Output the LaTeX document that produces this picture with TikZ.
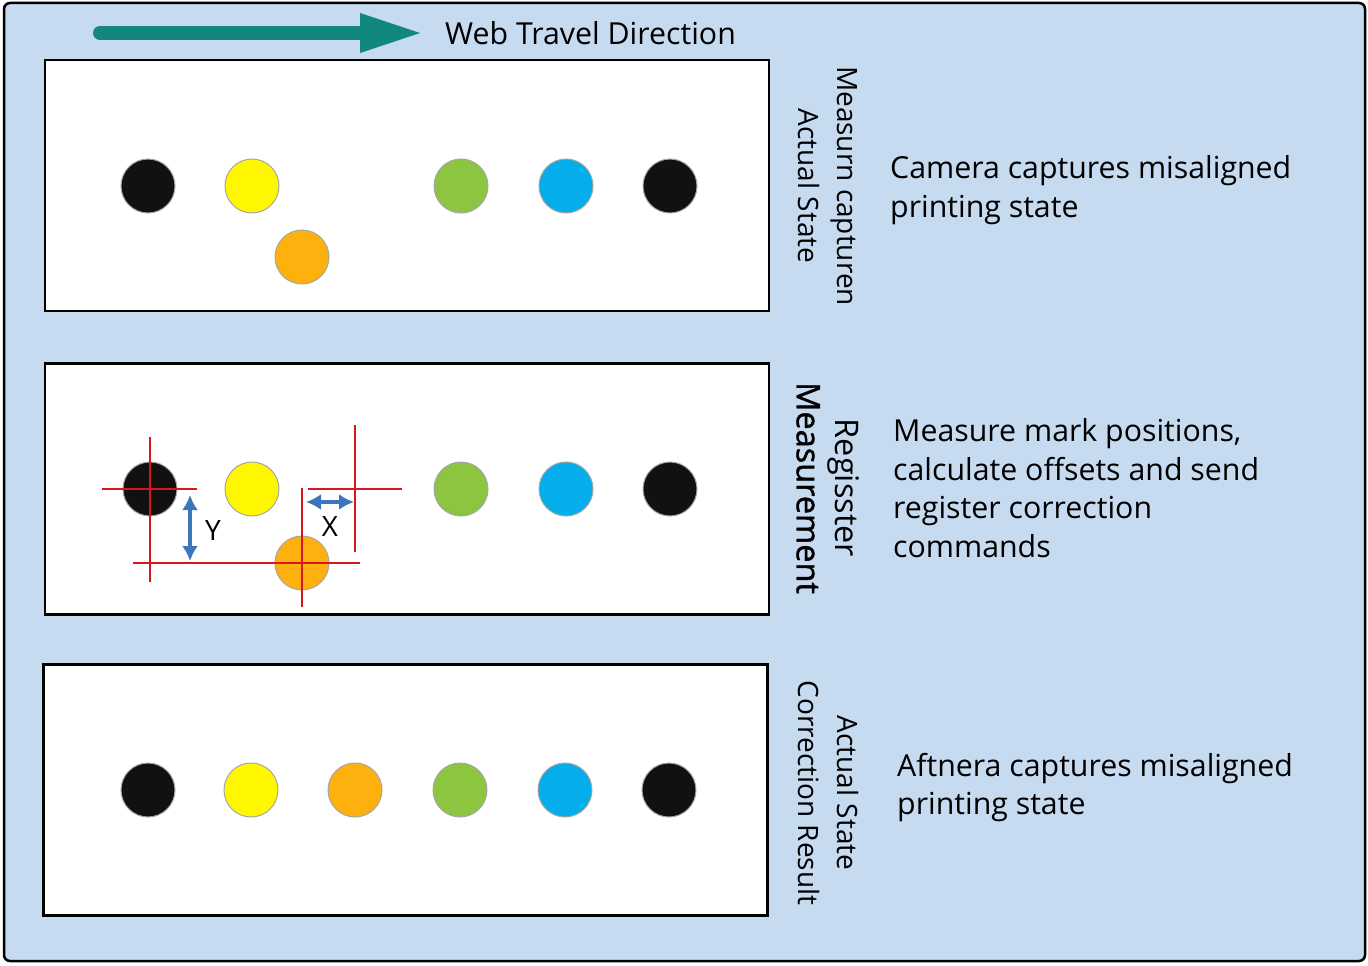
\documentclass[tikz,border=0pt]{standalone}
\usepackage{fontspec}
\setmainfont{Open Sans}
\newfontfamily\semibfont[FakeBold=1.2]{Open Sans}
\usetikzlibrary{arrows.meta}
\definecolor{bgblue}{HTML}{C6DAF0}
\definecolor{teal1}{HTML}{11877E}
\definecolor{dotblack}{HTML}{111111}
\definecolor{dotyellow}{HTML}{FFF700}
\definecolor{dotorange}{HTML}{FDB00E}
\definecolor{dotgreen}{HTML}{8CC540}
\definecolor{dotblue}{HTML}{04AEEA}
\definecolor{xred}{HTML}{D9151E}
\definecolor{arrblue}{HTML}{3B76BA}
\tikzset{
  panel/.style={draw=black, line width=2.5pt, fill=white, minimum width=724pt, minimum height=251pt, inner sep=0pt},
  dot/.style={circle, draw=gray!70, line width=1pt, minimum size=54pt, inner sep=0pt},
  sidelabel/.style={rotate=-90, align=center, font=\fontsize{28}{39}\selectfont},
  desc/.style={anchor=west, align=left, font=\fontsize{30.3}{38.5}\selectfont, inner sep=0pt},
  cross/.style={draw=xred, line width=2.4pt},
  measarrow/.style={draw=arrblue, line width=3.5pt, {Latex[length=15pt,width=16pt]}-{Latex[length=15pt,width=16pt]}}
}
\begin{document}
\begin{tikzpicture}[x=1pt,y=-1pt]
\useasboundingbox (0,0) rectangle (1368,966);
% background frame
\draw[fill=bgblue, line width=2.5pt, rounded corners=6pt] (4,3) rectangle (1365,961);
% travel arrow
\coordinate (ta) at (100,33);
\coordinate (tb) at (364,33);
\draw[teal1, line width=14pt, line cap=round] (ta) -- (tb);
\fill[teal1] (360,13) -- (420,33) -- (360,53) -- cycle;
\node[anchor=west, font=\fontsize{30.3}{34}\selectfont, inner sep=0pt] (title) at (445,33) {Web Travel Direction};
% panels
\node[panel] (p1) at (407,185.5) {};
\node[panel] (p2) at (407,489) {};
\node[panel] (p3) at (405.5,790) {};
% panel 1 dots
\node[dot, fill=dotblack] (a1) at (148,186) {};
\node[dot, fill=dotyellow] (a2) at (252,186) {};
\node[dot, fill=dotorange] (a3) at (302,257) {};
\node[dot, fill=dotgreen] (a4) at (461,186) {};
\node[dot, fill=dotblue] (a5) at (566,186) {};
\node[dot, fill=dotblack] (a6) at (670,186) {};
% panel 2 dots
\node[dot, fill=dotblack] (b1) at (150,489) {};
\node[dot, fill=dotyellow] (b2) at (252,489) {};
\node[dot, fill=dotorange] (b3) at (302,563) {};
\node[dot, fill=dotgreen] (b4) at (461,489) {};
\node[dot, fill=dotblue] (b5) at (566,489) {};
\node[dot, fill=dotblack] (b6) at (670,489) {};
% panel 3 dots
\node[dot, fill=dotblack] (c1) at (148,790) {};
\node[dot, fill=dotyellow] (c2) at (251,790) {};
\node[dot, fill=dotorange] (c3) at (355,790) {};
\node[dot, fill=dotgreen] (c4) at (460,790) {};
\node[dot, fill=dotblue] (c5) at (565,790) {};
\node[dot, fill=dotblack] (c6) at (669,790) {};
% crosshairs
\draw[cross] (150,437) -- (150,582);
\draw[cross] (102,489) -- (197,489);
\draw[cross] (133,563) -- (360,563);
\draw[cross] (302,488) -- (302,607);
\draw[cross] (355,425) -- (355,552);
\draw[cross] (308,489) -- (402,489);
% measurement arrows
\coordinate (y1) at (190,495);
\coordinate (y2) at (190,561);
\draw[measarrow] (y1) -- (y2);
\node[font=\fontsize{28}{30}\selectfont, inner sep=0pt] (ylab) at (213,531) {Y};
\coordinate (x1) at (306,502);
\coordinate (x2) at (354,502);
\draw[measarrow] (x1) -- (x2);
\node[font=\fontsize{28}{30}\selectfont, inner sep=0pt] (xlab) at (330,526) {X};
% side labels
\node[sidelabel] (s1) at (828,186) {Measurn capturen\\Actual State};
\node[sidelabel, font=\fontsize{32.5}{39}\selectfont] (s2) at (828,488) {Regisster\\{\semibfont Measurement}};
\node[sidelabel] (s3) at (828,793) {Actual State\\Correction Result};
% descriptions
\node[desc] (d1) at (890,190) {Camera captures misaligned\\printing state};
\node[desc] (d2) at (893,488) {Measure mark positions,\\calculate offsets and send\\register correction\\commands};
\node[desc] (d3) at (897,787.5) {Aftnera captures misaligned\\printing state};
\end{tikzpicture}
\end{document}
